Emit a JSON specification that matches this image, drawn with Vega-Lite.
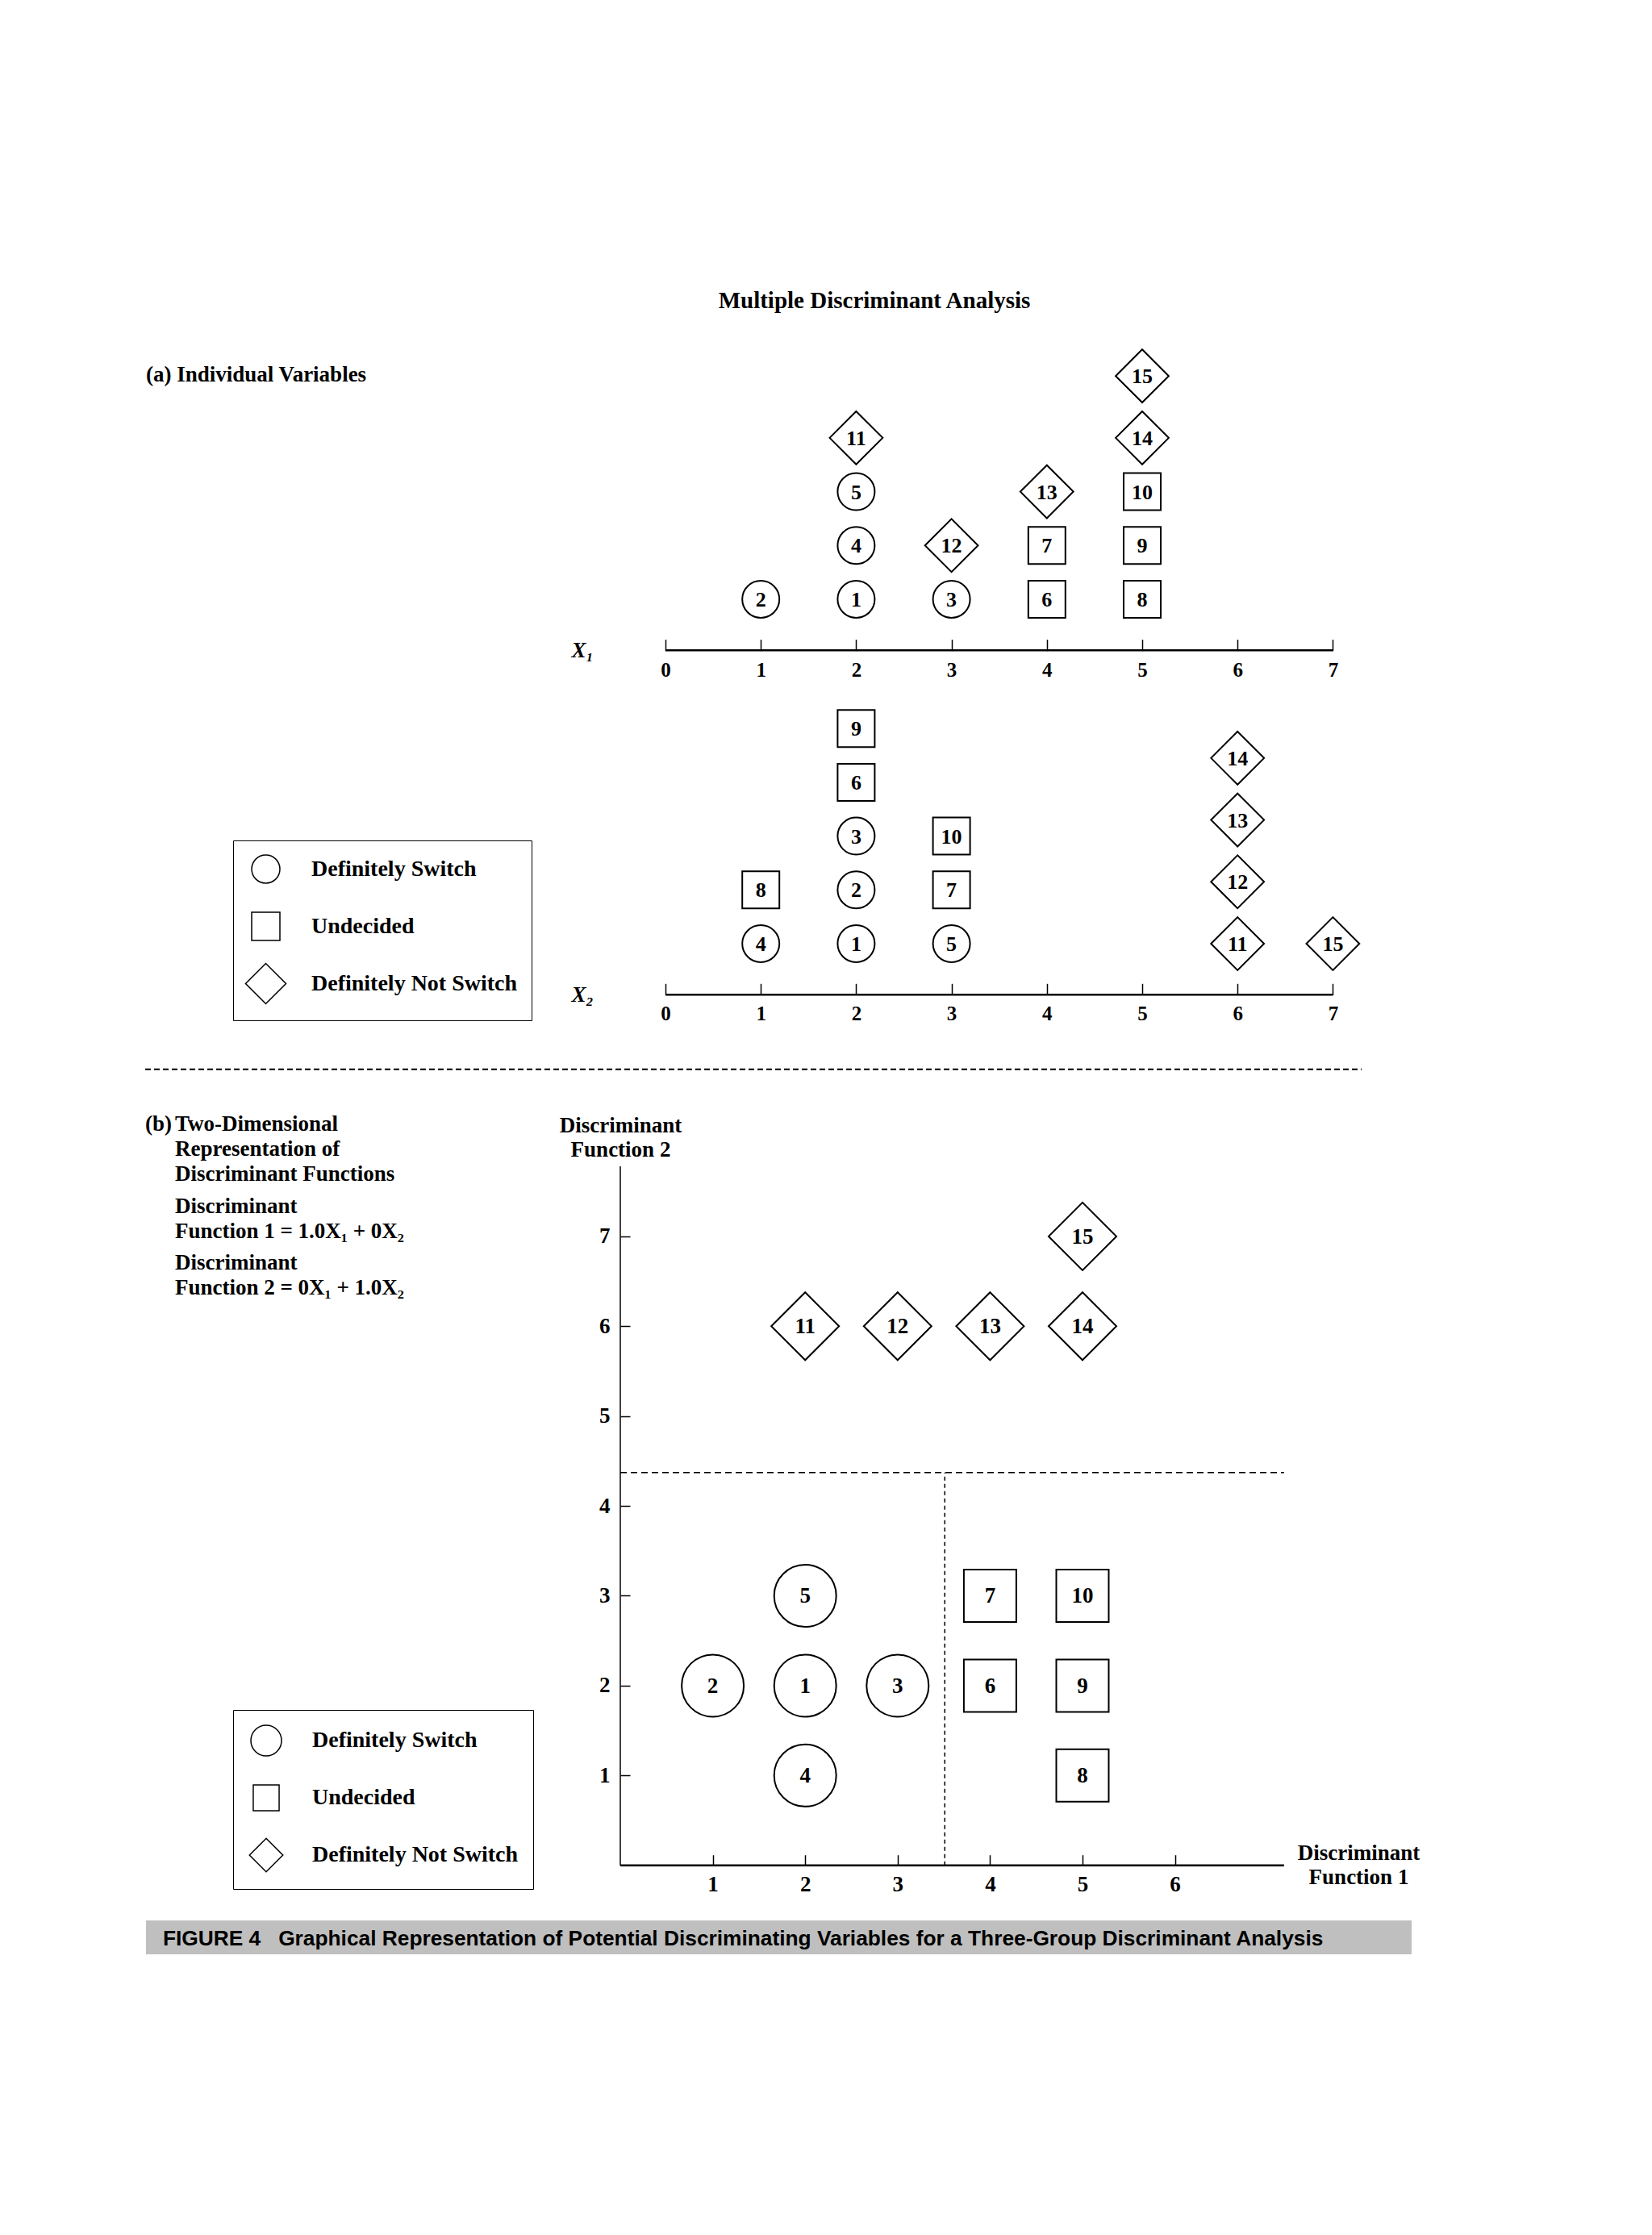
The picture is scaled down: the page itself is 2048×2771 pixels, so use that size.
{
  "$schema": "https://vega.github.io/schema/vega-lite/v6.json",
  "width": 2048,
  "height": 2771,
  "autosize": {"type": "none"},
  "padding": 0,
  "background": "white",
  "title": {"text": "Multiple Discriminant Analysis", "anchor": "middle", "frame": "group", "dx": 60, "offset": -411, "baseline": "alphabetic", "font": "Liberation Serif", "fontSize": 29, "fontWeight": "bold", "color": "black"},
  "config": {
    "view": {"stroke": null},
    "axis": {"grid": false, "domain": false, "ticks": true, "format": "d", "labelColor": "black", "tickColor": "black", "labelFont": "Liberation Serif", "labelFontWeight": "bold", "titleFont": "Liberation Serif", "titleColor": "black", "labelOverlap": false, "labelFlush": false}
  },
  "datasets": {
    "obs": [
      {"id": 1, "group": "Definitely Switch", "X1": 2, "X2": 2, "stack1": 1, "stack2": 1},
      {"id": 2, "group": "Definitely Switch", "X1": 1, "X2": 2, "stack1": 1, "stack2": 2},
      {"id": 3, "group": "Definitely Switch", "X1": 3, "X2": 2, "stack1": 1, "stack2": 3},
      {"id": 4, "group": "Definitely Switch", "X1": 2, "X2": 1, "stack1": 2, "stack2": 1},
      {"id": 5, "group": "Definitely Switch", "X1": 2, "X2": 3, "stack1": 3, "stack2": 1},
      {"id": 6, "group": "Undecided", "X1": 4, "X2": 2, "stack1": 1, "stack2": 4},
      {"id": 7, "group": "Undecided", "X1": 4, "X2": 3, "stack1": 2, "stack2": 2},
      {"id": 8, "group": "Undecided", "X1": 5, "X2": 1, "stack1": 1, "stack2": 2},
      {"id": 9, "group": "Undecided", "X1": 5, "X2": 2, "stack1": 2, "stack2": 5},
      {"id": 10, "group": "Undecided", "X1": 5, "X2": 3, "stack1": 3, "stack2": 3},
      {"id": 11, "group": "Definitely Not Switch", "X1": 2, "X2": 6, "stack1": 4, "stack2": 1},
      {"id": 12, "group": "Definitely Not Switch", "X1": 3, "X2": 6, "stack1": 2, "stack2": 2.15},
      {"id": 13, "group": "Definitely Not Switch", "X1": 4, "X2": 6, "stack1": 3, "stack2": 3.3},
      {"id": 14, "group": "Definitely Not Switch", "X1": 5, "X2": 6, "stack1": 4, "stack2": 4.45},
      {"id": 15, "group": "Definitely Not Switch", "X1": 5, "X2": 7, "stack1": 5.15, "stack2": 1}
    ]
  },
  "resolve": {
    "scale": {"x": "independent", "y": "independent", "shape": "independent"},
    "axis": {"x": "independent", "y": "independent"},
    "legend": {"shape": "independent"}
  },
  "layer": [
    {
      "layer": [
        {
          "data": {"name": "obs"},
          "mark": {"type": "point", "filled": true, "fill": "white", "stroke": "black", "strokeWidth": 2, "opacity": 1, "size": 2116},
          "encoding": {
            "x": {"field": "X1", "type": "quantitative", "scale": {"domain": [-6.9797, 10.3469], "nice": false, "zero": false},
              "axis": {"orient": "bottom", "offset": -1964.3, "values": [0, 1, 2, 3, 4, 5, 6, 7], "tickSize": -14, "tickWidth": 1.5, "labelFontSize": 25, "labelPadding": 25.5,
                "title": "X\u2081", "titleX": 708, "titleY": 8, "titleAlign": "left", "titleBaseline": "alphabetic", "titleAngle": 0, "titleFontSize": 27, "titleFontStyle": "italic", "titleFontWeight": "bold"}},
            "y": {"field": "stack1", "type": "quantitative", "scale": {"domain": [-29.405, 12.139], "nice": false, "zero": false}, "axis": null},
            "shape": {"field": "group", "type": "nominal", "scale": {"domain": ["Definitely Switch", "Undecided", "Definitely Not Switch"], "range": ["circle", "square", "M-1.43,0L0,-1.43L1.43,0L0,1.43Z"]}, "legend": null}
          }
        },
        {
          "data": {"name": "obs"},
          "mark": {"type": "text", "font": "Liberation Serif", "fontWeight": "bold", "fontSize": 26, "align": "center", "baseline": "middle", "dy": 1, "fill": "black"},
          "encoding": {
            "x": {"field": "X1", "type": "quantitative"},
            "y": {"field": "stack1", "type": "quantitative"},
            "text": {"field": "id", "type": "nominal"}
          }
        },
        {
          "data": {"values": [{}]},
          "mark": {"type": "rule", "stroke": "black", "strokeWidth": 2.5},
          "encoding": {"x": {"datum": 0, "type": "quantitative"}, "x2": {"datum": 7}, "y": {"datum": 0.05, "type": "quantitative"}}
        },
        {
          "data": {"values": [{}]},
          "mark": {"type": "text", "text": "(a) Individual Variables", "font": "Liberation Serif", "fontWeight": "bold", "fontSize": 27, "align": "left", "baseline": "alphabetic", "fill": "black"},
          "encoding": {"x": {"datum": -5.448, "type": "quantitative"}, "y": {"datum": 5.048, "type": "quantitative"}}
        }
      ]
    },
    {
      "layer": [
        {
          "data": {"name": "obs"},
          "mark": {"type": "point", "filled": true, "fill": "white", "stroke": "black", "strokeWidth": 2, "opacity": 1, "size": 2116},
          "encoding": {
            "x": {"field": "X2", "type": "quantitative", "scale": {"domain": [-6.9797, 10.3469], "nice": false, "zero": false},
              "axis": {"orient": "bottom", "offset": -1537.7, "values": [0, 1, 2, 3, 4, 5, 6, 7], "tickSize": -14, "tickWidth": 1.5, "labelFontSize": 25, "labelPadding": 25.5,
                "title": "X\u2082", "titleX": 708, "titleY": 8, "titleAlign": "left", "titleBaseline": "alphabetic", "titleAngle": 0, "titleFontSize": 27, "titleFontStyle": "italic", "titleFontWeight": "bold"}},
            "y": {"field": "stack2", "type": "quantitative", "scale": {"domain": [-23.003, 18.541], "nice": false, "zero": false}, "axis": null},
            "shape": {"field": "group", "type": "nominal", "scale": {"domain": ["Definitely Switch", "Undecided", "Definitely Not Switch"], "range": ["circle", "square", "M-1.43,0L0,-1.43L1.43,0L0,1.43Z"]},
              "legend": {"orient": "none", "direction": "vertical", "legendX": 289, "legendY": 1042, "title": null, "padding": 17, "gridAlign": "all", "strokeColor": "black", "fillColor": "white", "symbolSize": 1225, "symbolOffset": 5, "labelFont": "Liberation Serif", "labelFontSize": 28, "labelFontWeight": "bold", "labelColor": "black", "labelOffset": 38, "rowPadding": 14, "labelLimit": 400,
                "encode": {"legend": {"strokeWidth": {"value": 2}}}}}
          }
        },
        {
          "data": {"name": "obs"},
          "mark": {"type": "text", "font": "Liberation Serif", "fontWeight": "bold", "fontSize": 26, "align": "center", "baseline": "middle", "dy": 1, "fill": "black"},
          "encoding": {
            "x": {"field": "X2", "type": "quantitative"},
            "y": {"field": "stack2", "type": "quantitative"},
            "text": {"field": "id", "type": "nominal"}
          }
        },
        {
          "data": {"values": [{}]},
          "mark": {"type": "rule", "stroke": "black", "strokeWidth": 2.5},
          "encoding": {"x": {"datum": 0, "type": "quantitative"}, "x2": {"datum": 7}, "y": {"datum": 0.05, "type": "quantitative"}}
        },
        {
          "data": {"values": [{}]},
          "mark": {"type": "rule", "stroke": "black", "strokeWidth": 2, "strokeDash": [7, 4]},
          "encoding": {"x": {"datum": -5.457, "type": "quantitative"}, "x2": {"datum": 7.301}, "y": {"datum": -1.334, "type": "quantitative"}}
        }
      ]
    },
    {
      "layer": [
        {
          "data": {"values": [{}]},
          "mark": {"type": "rect", "fill": "#bfbfbf"},
          "encoding": {"x": {"datum": -5.131, "type": "quantitative"}, "x2": {"datum": 8.56}, "y": {"datum": -0.613, "type": "quantitative"}, "y2": {"datum": -0.99}}
        },
        {
          "data": {"values": [{}]},
          "mark": {"type": "text", "text": "FIGURE 4\u00a0\u00a0\u00a0Graphical Representation of Potential Discriminating Variables for a Three-Group Discriminant Analysis", "font": "Liberation Sans", "fontWeight": "bold", "fontSize": 26.3, "align": "left", "baseline": "alphabetic", "fill": "black"},
          "encoding": {"x": {"datum": -4.948, "type": "quantitative"}, "y": {"datum": -0.891, "type": "quantitative"}}
        },
        {
          "data": {"values": [{}]},
          "mark": {"type": "rule", "stroke": "black", "strokeWidth": 2.5},
          "encoding": {"x": {"datum": 0, "type": "quantitative"}, "x2": {"datum": 7.18}, "y": {"datum": 0, "type": "quantitative"}}
        },
        {
          "data": {"values": [{}]},
          "mark": {"type": "rule", "stroke": "black", "strokeWidth": 1.5},
          "encoding": {"x": {"datum": 0, "type": "quantitative"}, "y": {"datum": 0, "type": "quantitative"}, "y2": {"datum": 7.78}}
        },
        {
          "data": {"values": [{}]},
          "mark": {"type": "rule", "stroke": "black", "strokeWidth": 1.5, "strokeDash": [8, 5]},
          "encoding": {"x": {"datum": 0, "type": "quantitative"}, "x2": {"datum": 7.18}, "y": {"datum": 4.37, "type": "quantitative"}}
        },
        {
          "data": {"values": [{}]},
          "mark": {"type": "rule", "stroke": "black", "strokeWidth": 1.5, "strokeDash": [5, 4]},
          "encoding": {"x": {"datum": 3.51, "type": "quantitative"}, "y": {"datum": 0, "type": "quantitative"}, "y2": {"datum": 4.37}}
        },
        {
          "data": {"name": "obs"},
          "mark": {"type": "point", "filled": true, "fill": "white", "stroke": "black", "strokeWidth": 2, "opacity": 1, "size": 5929},
          "encoding": {
            "x": {"field": "X1", "type": "quantitative", "scale": {"domain": [-6.7103, 11.1606], "nice": false, "zero": false},
              "axis": {"orient": "bottom", "offset": -458.3, "values": [1, 2, 3, 4, 5, 6], "tickSize": -13, "tickWidth": 1.5, "labelFontSize": 27, "labelPadding": 24,
                "title": ["Discriminant", "Function 1"], "titleX": 1684, "titleY": -7, "titleAlign": "center", "titleBaseline": "alphabetic", "titleAngle": 0, "titleFontSize": 27, "titleFontWeight": "bold", "titleLineHeight": 30}},
            "y": {"field": "X2", "type": "quantitative", "scale": {"domain": [-4.114, 20.76], "nice": false, "zero": false},
              "axis": {"orient": "left", "offset": -769, "values": [1, 2, 3, 4, 5, 6, 7], "tickSize": -12, "tickWidth": 1.5, "labelFontSize": 27, "labelPadding": 25,
                "title": ["Discriminant", "Function 2"], "titleX": 0, "titleY": 1403, "titleAlign": "center", "titleBaseline": "alphabetic", "titleAngle": 0, "titleFontSize": 27, "titleFontWeight": "bold", "titleLineHeight": 30}},
            "shape": {"field": "group", "type": "nominal", "scale": {"domain": ["Definitely Switch", "Undecided", "Definitely Not Switch"], "range": ["circle", "M-0.844,-0.844H0.844V0.844H-0.844Z", "M-1.091,0L0,-1.091L1.091,0L0,1.091Z"]},
              "legend": {"orient": "none", "direction": "vertical", "legendX": 289, "legendY": 2120, "title": null, "padding": 18, "gridAlign": "all", "strokeColor": "black", "fillColor": "white", "symbolSize": 1444, "symbolOffset": 3, "labelFont": "Liberation Serif", "labelFontSize": 28, "labelFontWeight": "bold", "labelColor": "black", "labelOffset": 37, "rowPadding": 23, "labelLimit": 400,
                "encode": {"legend": {"strokeWidth": {"value": 2}}}}}
          }
        },
        {
          "data": {"name": "obs"},
          "mark": {"type": "text", "font": "Liberation Serif", "fontWeight": "bold", "fontSize": 27, "align": "center", "baseline": "middle", "dy": 1, "fill": "black"},
          "encoding": {
            "x": {"field": "X1", "type": "quantitative"},
            "y": {"field": "X2", "type": "quantitative"},
            "text": {"field": "id", "type": "nominal"}
          }
        },
        {
          "data": {"values": [{}]},
          "mark": {"type": "text", "text": "(b)", "font": "Liberation Serif", "fontWeight": "bold", "fontSize": 27, "align": "left", "baseline": "alphabetic", "fill": "black"},
          "encoding": {"x": {"datum": -5.14, "type": "quantitative"}, "y": {"datum": 8.175, "type": "quantitative"}}
        },
        {
          "data": {"values": [{}]},
          "mark": {"type": "text", "text": ["Two-Dimensional", "Representation of", "Discriminant Functions"], "lineHeight": 31, "font": "Liberation Serif", "fontWeight": "bold", "fontSize": 27, "align": "left", "baseline": "alphabetic", "fill": "black"},
          "encoding": {"x": {"datum": -4.817, "type": "quantitative"}, "y": {"datum": 8.175, "type": "quantitative"}}
        },
        {
          "data": {"values": [{}]},
          "mark": {"type": "text", "text": ["Discriminant", "Function 1 = 1.0X\u2081 + 0X\u2082"], "lineHeight": 31, "font": "Liberation Serif", "fontWeight": "bold", "fontSize": 27, "align": "left", "baseline": "alphabetic", "fill": "black"},
          "encoding": {"x": {"datum": -4.817, "type": "quantitative"}, "y": {"datum": 7.26, "type": "quantitative"}}
        },
        {
          "data": {"values": [{}]},
          "mark": {"type": "text", "text": ["Discriminant", "Function 2 = 0X\u2081 + 1.0X\u2082"], "lineHeight": 31, "font": "Liberation Serif", "fontWeight": "bold", "fontSize": 27, "align": "left", "baseline": "alphabetic", "fill": "black"},
          "encoding": {"x": {"datum": -4.817, "type": "quantitative"}, "y": {"datum": 6.627, "type": "quantitative"}}
        }
      ]
    }
  ]
}
